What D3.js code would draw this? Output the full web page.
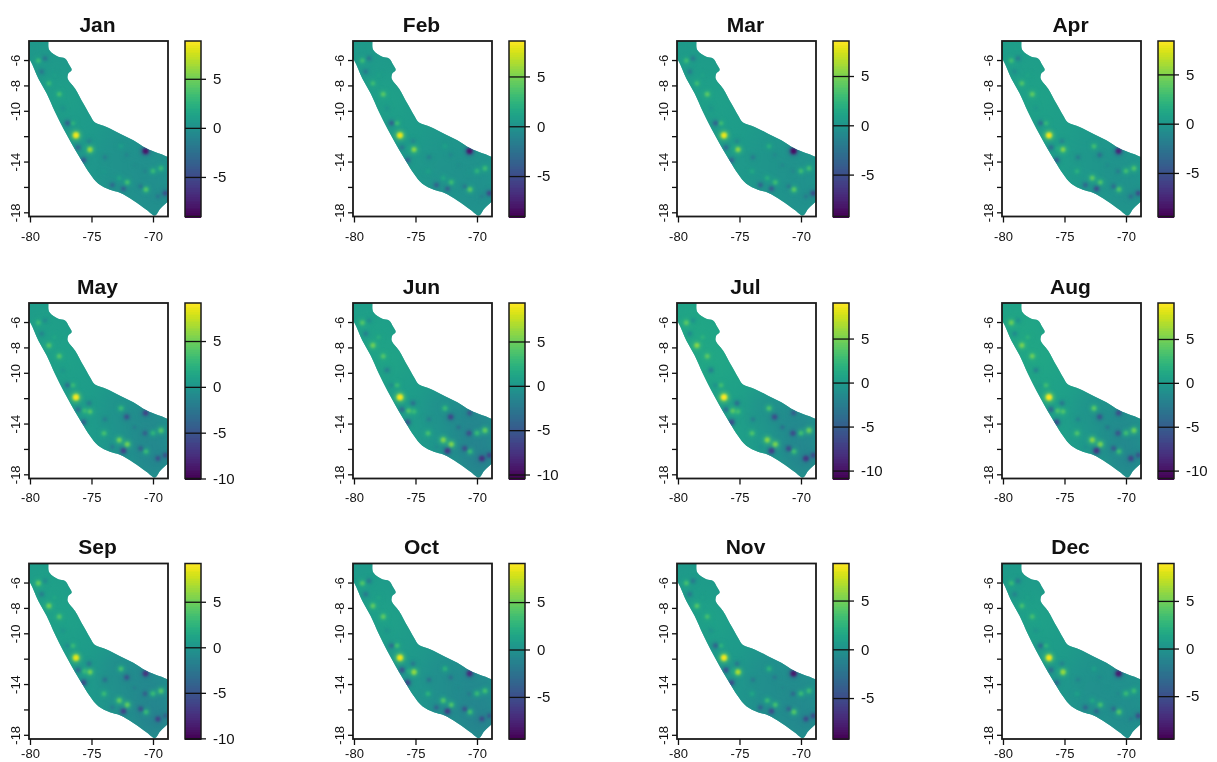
<!DOCTYPE html>
<html>
<head>
<meta charset="utf-8">
<script src="https://cdn.jsdelivr.net/npm/d3@7"></script>
<style>
  html, body { margin: 0; background: #fff; }
  svg { display: block; }
  text { font-family: "Liberation Sans", Arial, sans-serif; fill: #111; }
  .tick line { stroke: #111; stroke-width: 1.3; }
</style>
</head>
<body>
<svg width="1217" height="762"></svg>
<script>
const months = ['Jan','Feb','Mar','Apr','May','Jun','Jul','Aug','Sep','Oct','Nov','Dec']

// colour bar limits, one per panel
const barMax = [8.85, 8.56, 8.55, 8.39, 9.15, 9.34, 9.04, 9.1, 9.2, 9.07, 8.8, 8.93]
const barMin = [-9.03, -9.06, -9.25, -9.42, -10, -10.45, -10.9, -10.9, -10.07, -9.44, -9.2, -9.5]
const barTicks = [
  [-5,0,5],[-5,0,5],[-5,0,5],[-5,0,5],
  [-10,-5,0,5],[-10,-5,0,5],[-10,-5,0,5],[-10,-5,0,5],
  [-10,-5,0,5],[-5,0,5],[-5,0,5],[-5,0,5]
]
const lonTicks = [-80,-75,-70]
const latTicks = [-6,-8,-10,-12,-14,-16,-18]
const latLabels = [-6,-8,-10,-14,-18]

// outline of the study area, lon / lat
const outlineLon = [-81,-78.64,-78.43,-77.7,-77.15,-76.8,-76.61,-76.88,-76.94,-76.34,-75.66,-75.12,-74.72,-73.77,-72.68,-71.6,-70.51,-68,-68,-69.43,-69.84,-70.51,-71.6,-72.68,-73.5,-74.44,-75.12,-75.8,-76.61,-77.29,-77.97,-78.64,-79.32,-80,-81]
const outlineLat = [-3.8,-3.8,-5.21,-5.74,-5.87,-6.4,-6.79,-7.05,-7.45,-8.24,-9.43,-10.35,-10.93,-11.27,-11.8,-12.32,-12.98,-14.2,-16.2,-17.73,-18.25,-17.81,-17.07,-16.46,-16.22,-15.75,-14.96,-13.91,-12.59,-11.4,-10.08,-8.64,-7.45,-6,-4.5]

// broad background zones
const zoneLon = [-78.7,-77.3,-75.5,-75,-72.5,-72.5,-70,-69.8,-70.2]
const zoneLat = [-6.5,-9,-11.8,-14.5,-13,-15.5,-14.8,-16.8,-14]
const zonesJan = [0.6,1,0.7,0.5,0.1,0,0.1,-0.3,-0.1]
const zonesFeb = [0.5,0.9,0.6,0.4,0.2,0,0.1,-0.3,-0.1]
const zonesMar = [0.5,0.8,0.6,0.4,0.1,0,0,-0.4,-0.2]
const zonesApr = [0.5,0.8,0.5,0.5,0,0,-0.1,-0.5,-0.3]
const zonesMay = [0.7,0.9,0.6,0.6,-0.3,-0.1,-1,-1.2,-0.9]
const zonesJun = [0.8,1,0.5,0.6,-0.7,-0.2,-1.6,-1.8,-1.4]
const zonesJul = [0.9,1,0.5,0.5,-0.9,-0.3,-1.7,-1.8,-1.5]
const zonesAug = [0.9,0.9,0.5,0.5,-0.8,-0.3,-1.5,-1.7,-1.3]
const zonesSep = [0.8,0.9,0.5,0.4,-0.7,-0.4,-1.3,-1.5,-1.1]
const zonesOct = [0.8,1,0.6,0.4,-0.3,-0.4,-0.7,-1.2,-0.7]
const zonesNov = [0.7,1,0.6,0.3,-0.3,-0.4,-0.5,-0.9,-0.5]
const zonesDec = [0.6,1,0.6,0.3,-0.1,-0.3,-0.2,-0.6,-0.3]
const monthZones = [zonesJan,zonesFeb,zonesMar,zonesApr,zonesMay,zonesJun,zonesJul,zonesAug,zonesSep,zonesOct,zonesNov,zonesDec]

// local hot and cold spots, same places every month
const siteLon = [-76.26,-75.12,-79.32,-78.46,-77.62,-70,-69.35,-70.57,-72.09,-70.6,-69,-73.3,-72.4,-75.65,-76.1,-76.95,-78.78,-79.05,-72.14,-72.74,-70.65,-69.6,-71,-73.98,-77.32,-76.5,-72.6,-73.9,-75.2,-71.5,-75.55,-78]
const siteLat = [-11.93,-13.06,-6.05,-7.84,-8.69,-14.75,-14.54,-16.2,-15.64,-13.17,-16.5,-15.85,-16.15,-13.9,-12.9,-10.98,-5.87,-6.92,-13.48,-15.3,-14.77,-16.75,-15.96,-14.77,-9.79,-10.98,-12.8,-13.67,-12.4,-14.3,-13,-7.2]
const sitesJan = [8.5,6,3,3,3.5,3,3,4,3.5,-8,-4.5,-3,-3.5,-4,-3,-3.5,-2,-2,-1,1.5,-1,-2,-2,0.5,0,2.5,1,-1.5,-1,-0.5,1,1]
const sitesFeb = [8,5.5,3,3,4,2.5,3,4,3,-8,-5,-3.5,-3.5,-3.5,-2,-3.5,-2,-2,-1,1.5,0,-1.5,-2,1,0,3,1,-1.5,-1,-0.5,1,1]
const sitesMar = [8,5.5,3,3,4,3,3,4,3,-8.5,-5,-3.5,-4,-3.5,-3,-3.5,-2,-2,-1,2,-1,-2,-2,1.5,0,3,2,-2,-1,-1,1,1]
const sitesApr = [8,5,3,3.5,4,3,3.5,3.5,3.5,-7.5,-5,-3.5,-5,-4,-3,-3,-2,-1,-3,4,-2,-3,-3,2,0,2.5,3,-2,-1.5,-1,1.5,1]
const sitesMay = [9,4,3,4,4,2.5,4,3,5,-6,-5,-2,-6,-4,-3,-3,-1,-1.5,-5,5,-4,-5,-4,3.5,0,3,3,-2,-2,-2,3,1.5]
const sitesJun = [9,3,4,5,4,3,4.5,3,5.5,-5,-6,-1,-7,-5,-3.5,-1,-1,-2,-6,5.5,-5.5,-7.5,-5.5,3.5,-2,3,3,-2,-3,-3,4,2]
const sitesJul = [9,3,4,5.5,4,3,4.5,3,5,-5,-6,-1,-7,-6,-3.5,-1,-1,-1.5,-6,5.5,-6,-7.5,-6,3.5,-2.5,3,3.5,-2.5,-3.5,-3.5,4,2]
const sitesAug = [9,3.5,4.5,5,4.5,3,4.5,3,5,-6,-5.5,-1,-7.5,-6,-4,0,-1,-1.5,-5.5,5.5,-5.5,-6.5,-5,3.5,-2,3,4,-2,-3,-3,3.5,2]
const sitesSep = [8.5,5,4.5,5,4,3,4,3,4.5,-7,-4,-2,-6,-5.5,-3.5,-1,-1,-2,-5,4.5,-4,-6,-5,3,0,3,3.5,-3,-2.5,-2,3,1.5]
const sitesOct = [8.5,6,4,4.5,4.5,3,3.5,3.5,4,-7,-4,-3.5,-6,-5.5,-4.5,-3,-2,-2,-2.5,4,-2,-5,-4.5,2.5,0,3.5,2.5,-2.5,-2,-1,2,1.5]
const sitesNov = [8.5,6.5,3.5,4,3.5,3,3,4,3.5,-8,-5,-3.5,-5,-5,-4.5,-3.5,-2,-2,-2,3,-3,-5,-3.5,1.5,0,2.5,2.5,-2,-2,-1,1.5,1]
const sitesDec = [8.5,6,3,3.5,3.5,3,3,4,3.5,-8,-5,-3.5,-3.5,-3.5,-3,-3,-2,-1.5,-1,1.5,-1,-2,-3,1,0,2.5,1,-1.5,-1.5,-0.5,1,1]
const monthSites = [sitesJan,sitesFeb,sitesMar,sitesApr,sitesMay,sitesJun,sitesJul,sitesAug,sitesSep,sitesOct,sitesNov,sitesDec]

const colX = [29, 353, 677, 1002]
const rowY = [41, 303, 563.5]
const labelPad = [9, 8, 4]
const frameW = 139
const frameH = 175.5
const barGap = 156
const barW = 16

const svg = d3.select('svg')
const defs = svg.append('defs')

const addBlur = (id, dev) => defs.append('filter')
  .attr('id', id)
  .attr('x', '-30%').attr('y', '-30%')
  .attr('width', '160%').attr('height', '160%')
  .attr('color-interpolation-filters', 'sRGB')
  .append('feGaussianBlur').attr('stdDeviation', dev)

addBlur('blurZone', 11)
addBlur('blurHalo', 2)
addBlur('blurCore', 1.2)
addBlur('blurEdge', 0.7)
addBlur('blurInk', 0.4)

const baseValue = 0.4
const spotRadius = d3.scaleLinear().domain([0, 9]).range([1.6, 3])

months.forEach((month, i) => {
  const left = colX[i % 4]
  const row = Math.floor(i / 4)
  const top = rowY[row]
  const panel = svg.append('g').attr('class', 'panel').attr('transform', `translate(${left},${top})`)

  const x = d3.scaleLinear().domain([-80.08, -68.78]).range([0, frameW])
  const y = d3.scaleLinear().domain([-4.5, -18.33]).range([0, frameH])
  const barY = d3.scaleLinear().domain([barMax[i], barMin[i]]).range([0, frameH])
  const colour = d3.scaleSequential(d3.interpolateViridis).domain([barMin[i], barMax[i]])

  // raster part, cut to the frame and the outline
  const line = d3.line().curve(d3.curveCatmullRomClosed)
    .x(k => x(outlineLon[k])).y(k => y(outlineLat[k]))
  const outlinePath = line(d3.range(outlineLon.length))

  defs.append('clipPath').attr('id', 'clip' + i)
    .append('path').attr('d', outlinePath)
  defs.append('clipPath').attr('id', 'frame' + i)
    .append('rect').attr('width', frameW).attr('height', frameH)

  const soft = panel.append('g').attr('clip-path', `url(#frame${i})`)
    .append('g').attr('filter', 'url(#blurEdge)')
  const raster = soft.append('g').attr('clip-path', `url(#clip${i})`)

  raster.append('rect')
    .attr('x', -15).attr('y', -15)
    .attr('width', frameW + 30).attr('height', frameH + 30)
    .attr('fill', colour(baseValue))

  raster.append('g').attr('filter', 'url(#blurZone)')
    .selectAll('circle').data(monthZones[i])
    .join('circle')
      .attr('cx', (d, k) => x(zoneLon[k]))
      .attr('cy', (d, k) => y(zoneLat[k]))
      .attr('r', 24)
      .attr('fill', d => colour(d))

  const order = d3.range(siteLon.length)
    .sort((a, b) => Math.abs(monthSites[i][a]) - Math.abs(monthSites[i][b]))

  raster.append('g').attr('filter', 'url(#blurHalo)')
    .selectAll('circle').data(order)
    .join('circle')
      .attr('cx', k => x(siteLon[k]))
      .attr('cy', k => y(siteLat[k]))
      .attr('r', k => spotRadius(Math.abs(monthSites[i][k])) * 1.6)
      .attr('fill', k => colour(baseValue + (monthSites[i][k] - baseValue) * 0.5))

  raster.append('g').attr('filter', 'url(#blurCore)')
    .selectAll('circle').data(order)
    .join('circle')
      .attr('cx', k => x(siteLon[k]))
      .attr('cy', k => y(siteLat[k]))
      .attr('r', k => spotRadius(Math.abs(monthSites[i][k])))
      .attr('fill', k => colour(monthSites[i][k]))

  const ink = panel.append('g').attr('filter', 'url(#blurInk)')

  ink.append('rect')
    .attr('width', frameW).attr('height', frameH)
    .attr('fill', 'none').attr('stroke', '#1a1a1a').attr('stroke-width', 1.8)

  ink.append('text')
    .attr('x', frameW / 2 - 1).attr('y', -9.5)
    .attr('text-anchor', 'middle')
    .attr('font-size', 21).attr('font-weight', 'bold')
    .text(month)

  const xAxis = ink.append('g').attr('transform', `translate(0,${frameH})`)
    .call(d3.axisBottom(x).tickValues(lonTicks).tickSize(6).tickPadding(labelPad[row]).tickFormat(String))
  xAxis.select('.domain').remove()
  xAxis.selectAll('text').attr('font-size', 13).attr('fill', '#111')

  const yAxis = ink.append('g')
    .call(d3.axisLeft(y).tickValues(latTicks).tickSize(5)
      .tickFormat(d => latLabels.includes(d) ? String(d) : ''))
  yAxis.select('.domain').remove()
  yAxis.selectAll('text')
    .attr('font-size', 13).attr('fill', '#111')
    .attr('transform', `translate(-9,0) rotate(-90)`)
    .attr('x', 0).attr('y', 0).attr('dy', 0)
    .attr('text-anchor', 'middle')

  // colour bar
  const bar = panel.append('g').attr('transform', `translate(${barGap},0)`)
  const steps = d3.range(0, 100)
  const barStep = frameH / steps.length
  bar.append('g').attr('shape-rendering', 'crispEdges').selectAll('rect').data(steps)
    .join('rect')
      .attr('y', d => d * barStep)
      .attr('width', barW)
      .attr('height', barStep + 1)
      .attr('fill', d => colour(barMax[i] - (d + 0.5) / steps.length * (barMax[i] - barMin[i])))

  const barInk = bar.append('g').attr('filter', 'url(#blurInk)')
  barInk.append('rect')
    .attr('width', barW).attr('height', frameH)
    .attr('fill', 'none').attr('stroke', '#1a1a1a').attr('stroke-width', 1.5)
  const barAxis = barInk.append('g')
    .call(d3.axisRight(barY).tickValues(barTicks[i]).tickSize(21).tickPadding(7).tickFormat(String))
  barAxis.select('.domain').remove()
  barAxis.selectAll('text').attr('font-size', 15).attr('fill', '#111')
})
</script>
</body>
</html>
